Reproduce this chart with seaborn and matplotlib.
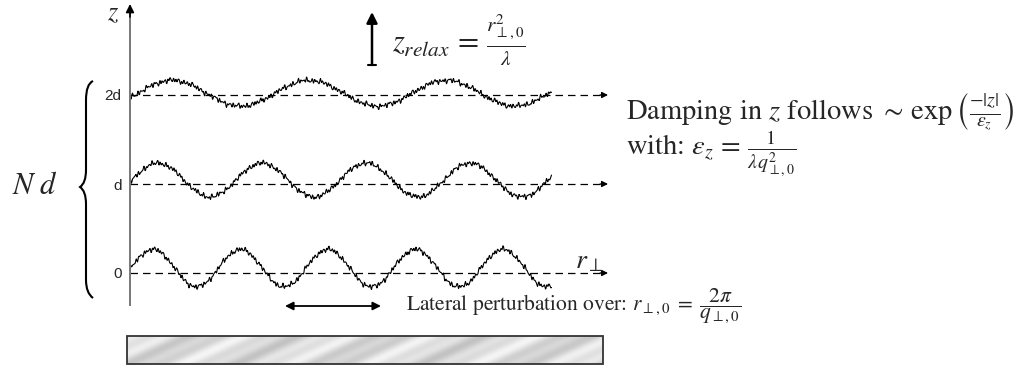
import numpy as np
import pandas as pd
import seaborn as sns
import matplotlib.pyplot as plt
from matplotlib.path import Path
from matplotlib.patches import PathPatch, Rectangle

sns.set_style('white')
plt.rcParams['font.family'] = ['STIXGeneral', 'DejaVu Serif']
plt.rcParams['mathtext.fontset'] = 'stix'

# layers (z in units of d) and the wave parameters
levels = [0, 1, 2]
level_labels = ['0', 'd', '2d']
periods = [87.5, 104, 137]          # lateral period, px
amplitudes = [0.21, 0.19, 0.145]    # in units of d
centres = [0.055, 0.045, 0.02]      # wave centre above dashed line, units of d
phases = [1, 2, 8]                  # first rising zero crossing, px
wave_end = 422                      # px from the z axis
dash_end = 478

fig = plt.figure(figsize=(10.32, 3.67), dpi=100)

# main axes: x in px from the z axis, y in units of d (d = 89 px)
ax = fig.add_axes([130/1032, 62/367, 485/1032, 300/367])
ax.set_xlim(0, 485)
ax.set_ylim(-32/89, 268/89)
ax.patch.set_alpha(0)

r = np.arange(0, wave_end, 0.5)
for lvl, per, amp, c, ph in zip(levels, periods, amplitudes, centres, phases):
    # small deterministic roughness on top of the sine
    rough = (0.014*np.sin(2.31*r + lvl) + 0.011*np.sin(1.37*r + 2*lvl)
             + 0.008*np.sin(3.17*r + 0.5*lvl) + 0.008*np.sin(0.83*r + 3*lvl)
             + 0.006*np.sin(0.29*r + lvl))
    z = lvl + c + amp*np.sin(2*np.pi*(r - ph)/per) + rough
    df = pd.DataFrame({'r': r, 'z': z})
    sns.lineplot(data=df, x='r', y='z', ax=ax, color='black', lw=0.8)
    sns.lineplot(x=[0, dash_end - 6], y=[lvl, lvl], ax=ax, color='black',
                 lw=0.9, linestyle=(0, (6, 4)))
    ax.annotate('', xy=(dash_end, lvl), xytext=(dash_end - 8, lvl),
                arrowprops=dict(arrowstyle='-|>', color='black', lw=0.9,
                                mutation_scale=9, shrinkA=0, shrinkB=0))

for s in ['top', 'right', 'bottom']:
    ax.spines[s].set_visible(False)
ax.spines['left'].set_color('#777777')
ax.spines['left'].set_linewidth(1.4)
ax.spines['left'].set_bounds(-32/89, 260/89)
ax.set_xticks([])
ax.set_yticks(levels, level_labels)
ax.tick_params(axis='y', length=0, pad=6, labelsize=11)
for lab in ax.get_yticklabels():
    lab.set_fontfamily('Liberation Sans')
ax.set_xlabel('')
ax.set_ylabel('')
ax.annotate('', xy=(0, 269/89), xytext=(0, 256/89),
            arrowprops=dict(arrowstyle='-|>', color='black', lw=1.2,
                            mutation_scale=12, shrinkA=0, shrinkB=0),
            annotation_clip=False)

# overlay in pixel coordinates for the annotations
cv = fig.add_axes([0, 0, 1, 1])
cv.set_xlim(0, 1032)
cv.set_ylim(367, 0)
cv.axis('off')
cv.patch.set_alpha(0)

cv.text(113, 14, '$z$', fontsize=19, ha='center', va='center')
cv.text(12, 187, '$N\\;d$', fontsize=22, ha='left', va='center')

# brace
verts = [(93, 81), (86, 84), (86, 100), (86, 110),
         (86, 170), (86, 183), (80, 187),
         (86, 191), (86, 204),
         (86, 280), (86, 293), (93, 298)]
codes = [Path.MOVETO, Path.CURVE3, Path.CURVE3, Path.LINETO,
         Path.LINETO, Path.CURVE3, Path.CURVE3,
         Path.CURVE3, Path.CURVE3,
         Path.LINETO, Path.CURVE3, Path.CURVE3]
cv.add_patch(PathPatch(Path(verts, codes), fill=False, lw=1.5, color='black'))

# relaxation arrow and formula
cv.annotate('', xy=(372, 12), xytext=(372, 65),
            arrowprops=dict(arrowstyle='-|>', color='black', lw=1.8,
                            mutation_scale=16, shrinkA=0, shrinkB=0))
cv.plot([368, 376], [65, 65], color='black', lw=1.5)
cv.text(392, 40, '$z_{relax}\\,=\\,\\frac{r_{\\perp,0}^{2}}{\\lambda}$',
        fontsize=22, ha='left', va='center')

cv.text(626, 112, 'Damping in $z$ follows $\\sim\\,\\exp\\left(\\frac{-|z|}{\\varepsilon_z}\\right)$',
        fontsize=20.5, ha='left', va='center')
cv.text(626, 154, 'with: $\\varepsilon_z\\,=\\,\\frac{1}{\\lambda q_{\\perp,0}^{2}}$',
        fontsize=20.5, ha='left', va='center')
cv.text(575, 262, '$r_{\\perp}$', fontsize=20, ha='left', va='center')
cv.text(406, 306, 'Lateral perturbation over: $r_{\\perp,0}\\;=\\;\\dfrac{2\\pi}{q_{\\perp,0}}$',
        fontsize=15.5, ha='left', va='center')
cv.annotate('', xy=(285, 306), xytext=(381, 306),
            arrowprops=dict(arrowstyle='<|-|>', color='black', lw=1.3,
                            mutation_scale=12, shrinkA=0, shrinkB=0))

# substrate with diagonal sheen
yy, xx = np.mgrid[0:28, 0:476]
u = xx + 2.2*yy
tex = 0.86 + 0.06*np.sin(2*np.pi*u/95) + 0.04*np.sin(2*np.pi*u/37 + 1.0)
cv.imshow(tex, cmap='gray', vmin=0, vmax=1, extent=[127, 603, 364, 336],
          aspect='auto', interpolation='bilinear', zorder=1)
cv.add_patch(Rectangle((127, 336), 476, 28, fill=False, ec='#333333', lw=1.3, zorder=2))
cv.set_xlim(0, 1032)
cv.set_ylim(367, 0)

fig.savefig('out.png', dpi=100)
